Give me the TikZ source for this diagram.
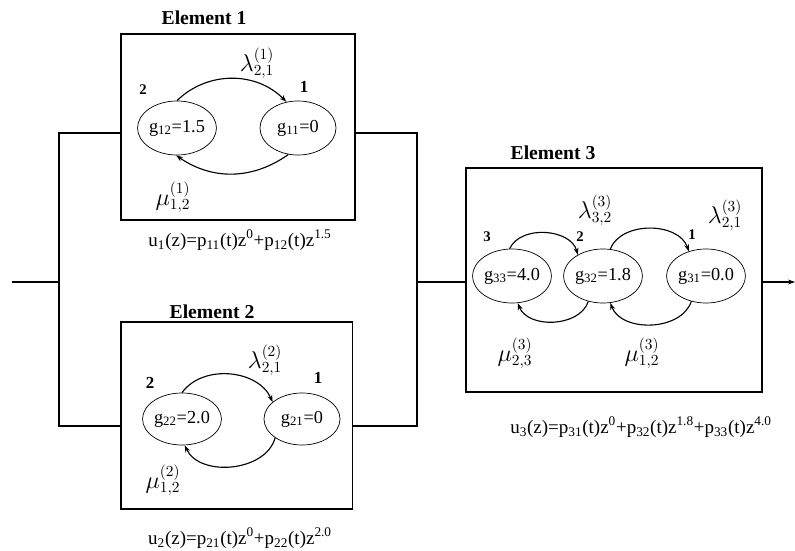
\documentclass[tikz,border=0pt]{standalone}
\usepackage{fontspec}
\setmainfont{Liberation Serif}
\usetikzlibrary{arrows.meta, shapes.geometric}

\begin{document}
\begin{tikzpicture}[x=0.025cm, y=-0.025cm, >={Stealth[length=5pt,width=3.5pt]},
      box/.style={draw, line width=0.9pt, inner sep=0pt},
      st/.style={draw, ellipse, line width=0.5pt, inner sep=0pt,
                 minimum width=1.9cm, minimum height=1.35cm, font=\fontsize{13}{15}\selectfont},
      ttl/.style={font=\fontsize{14}{16}\selectfont\bfseries},
      num/.style={font=\fontsize{10.5}{12}\selectfont\bfseries},
      rate/.style={font=\fontsize{16}{18}\selectfont},
      ufun/.style={font=\fontsize{13.5}{16}\selectfont},
      tr/.style={->, line width=0.8pt},
      wire/.style={line width=0.8pt}]

    \useasboundingbox (0,0) rectangle (795,551);

    % ============================
    % ELEMENT 1
    % ============================
    \node[box, minimum width=5.85cm, minimum height=4.65cm] (box1) at (238,127) {};
    \node[ttl] (ttl1) at (204,18) {Element 1};
    \node[st] (g12) at (177,128) {g\textsubscript{12}=1.5};
    \node[st] (g11) at (298,128) {g\textsubscript{11}=0};
    \node[num] (n12) at (143,90) {2};
    \node[num, font=\fontsize{12}{14}\selectfont\bfseries] (n11) at (304,87) {1};
    \draw[tr] (g12.north) to[bend left=45] (g11.114);
    \draw[tr] (g11.250) to[bend left=35] (g12.268);
    \node[rate] (lam1) at (257,63) {$\lambda^{(1)}_{2,1}$};
    \node[rate] (mu1) at (173,197) {$\mu^{(1)}_{1,2}$};
    \node[ufun] (u1) at (240,240) {u\textsubscript{1}(z)=p\textsubscript{11}(t)z\textsuperscript{0}+p\textsubscript{12}(t)z\textsuperscript{1.5}};

    % ============================
    % ELEMENT 2
    % ============================
    \node[box, minimum width=5.78cm, minimum height=4.68cm] (box2) at (236.5,415.5) {};
    \node[ttl] (ttl2) at (212,312) {Element 2};
    \node[st, minimum width=1.8cm, minimum height=1.3cm] (g22) at (182,419) {g\textsubscript{22}=2.0};
    \node[st, minimum height=1.3cm] (g21) at (302,419) {g\textsubscript{21}=0};
    \node[num, font=\fontsize{12}{14}\selectfont\bfseries] (n22) at (150,383) {2};
    \node[num, font=\fontsize{12}{14}\selectfont\bfseries] (n21) at (318,378) {1};
    \draw[tr] (g22.north) to[bend left=60] (g21.150);
    \draw[tr] (g21.215) to[bend left=70] (g22.276);
    \node[rate] (lam2) at (265,360) {$\lambda^{(2)}_{2,1}$};
    \node[rate] (mu2) at (163,480) {$\mu^{(2)}_{1,2}$};
    \node[ufun] (u2) at (240,538) {u\textsubscript{2}(z)=p\textsubscript{21}(t)z\textsuperscript{0}+p\textsubscript{22}(t)z\textsuperscript{2.0}};

    % ============================
    % ELEMENT 3
    % ============================
    \node[box, minimum width=7.4cm, minimum height=5.6cm] (box3) at (614,280) {};
    \node[ttl] (ttl3) at (553,153) {Element 3};
    \node[st] (g33) at (512,276) {g\textsubscript{33}=4.0};
    \node[st, minimum width=1.75cm] (g32) at (603,276) {g\textsubscript{32}=1.8};
    \node[st] (g31) at (706,276) {g\textsubscript{31}=0.0};
    \node[num] (n33) at (487,237) {3};
    \node[num] (n32) at (580,237) {2};
    \node[num] (n31) at (692,235) {1};
    \draw[tr] (g33.95) to[bend left=70] (g32.140);
    \draw[tr] (g32.75) to[bend left=70] (g31.125);
    \draw[tr] (g32.240) to[bend left=70] (g33.282);
    \draw[tr] (g31.240) to[bend left=70] (g32.285);
    \node[rate] (lam32) at (595,210) {$\lambda^{(3)}_{3,2}$};
    \node[rate] (lam21) at (725,215) {$\lambda^{(3)}_{2,1}$};
    \node[rate] (mu23) at (515,353) {$\mu^{(3)}_{2,3}$};
    \node[rate] (mu12) at (642,353) {$\mu^{(3)}_{1,2}$};
    \node[ufun] (u3) at (641,427) {u\textsubscript{3}(z)=p\textsubscript{31}(t)z\textsuperscript{0}+p\textsubscript{32}(t)z\textsuperscript{1.8}+p\textsubscript{33}(t)z\textsuperscript{4.0}};

    % ============================
    % WIRING
    % ============================
    \coordinate (src) at (12,282);
    \coordinate (jl) at (59,282);
    \coordinate (jr) at (417,282);
    \coordinate (snk) at (795,282);
    \draw[wire] (src) -- (jl);
    \draw[wire] (box1.west |- 0,133) -| (jl) |- (box2.west |- 0,426);
    \draw[wire] (box1.east |- 0,133) -| (jr) |- (box2.east |- 0,426);
    \draw[wire] (jr) -- (box3.west |- jr);
    \draw[wire, ->] (box3.east |- jr) -- (snk);

\end{tikzpicture}
\end{document}
